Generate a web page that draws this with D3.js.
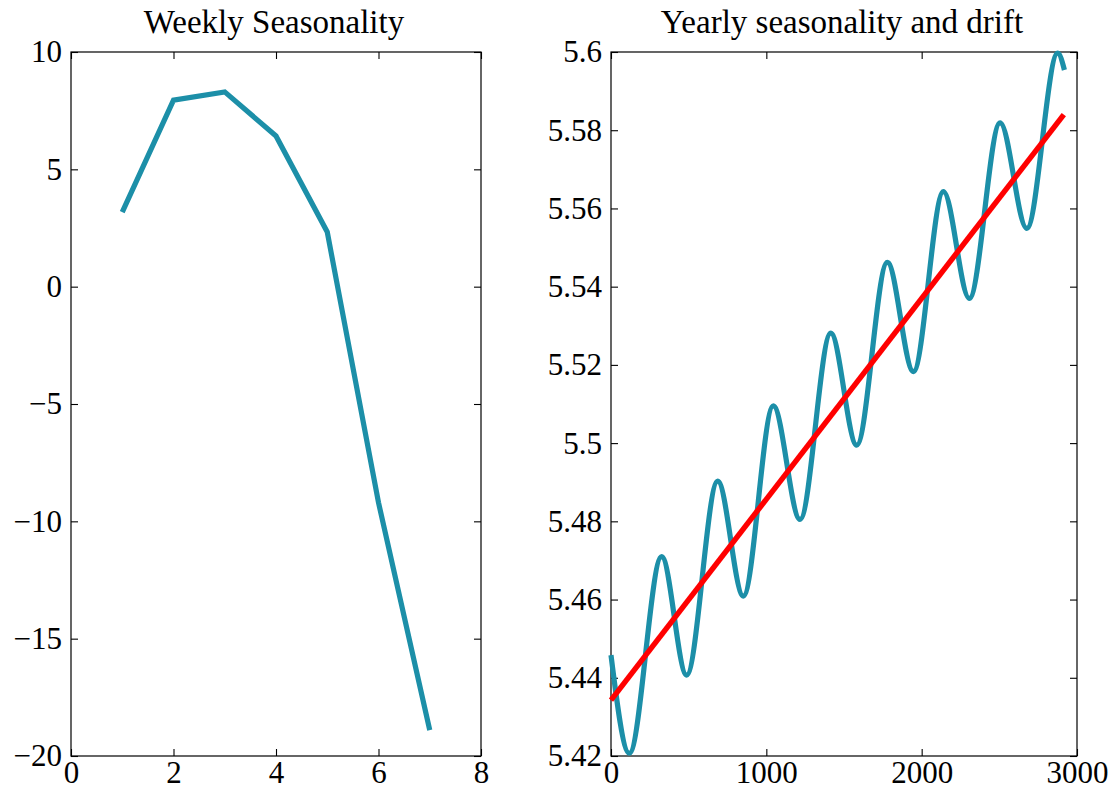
<!DOCTYPE html>
<html>
<head>
<meta charset="utf-8">
<script src="https://cdn.jsdelivr.net/npm/d3@7"></script>
<style>
  html, body { margin: 0; padding: 0; background: #fff; }
  svg { display: block; }
  text { font-family: "Liberation Serif", "Times New Roman", serif; fill: #000; }
</style>
</head>
<body>
<svg id="chart" width="1114" height="789"></svg>
<script>
// ---------- data ----------
const weeklyDays = [1, 2, 3, 4, 5, 6, 7];
const weeklyValues = [3.18, 7.95, 8.3, 6.42, 2.33, -9.2, -18.9];

const yearlyDays = [0, 118, 326, 487, 687, 852, 1045, 1217, 1415, 1582, 1779, 1947, 2140, 2307, 2505, 2677, 2876, 2919];
const yearlyValues = [5.4458, 5.4207, 5.4710, 5.4407, 5.4903, 5.4609, 5.5095, 5.4805, 5.5281, 5.4995, 5.5462, 5.5183, 5.5643, 5.5370, 5.5819, 5.5549, 5.5997, 5.5954];

const driftDays = [0, 2915];
const driftValues = [5.4343, 5.5840];

const weeklyXTicks = [0, 2, 4, 6, 8];
const weeklyXLabels = ["0", "2", "4", "6", "8"];
const weeklyYTicks = [-20, -15, -10, -5, 0, 5, 10];
const weeklyYLabels = ["\u221220", "\u221215", "\u221210", "\u22125", "0", "5", "10"];

const yearlyXTicks = [0, 1000, 2000, 3000];
const yearlyXLabels = ["0", "1000", "2000", "3000"];
const yearlyYTicks = [5.42, 5.44, 5.46, 5.48, 5.5, 5.52, 5.54, 5.56, 5.58, 5.6];
const yearlyYLabels = ["5.42", "5.44", "5.46", "5.48", "5.5", "5.52", "5.54", "5.56", "5.58", "5.6"];

const titles = ["Weekly Seasonality", "Yearly seasonality and drift"];

// ---------- layout ----------
const svg = d3.select("#chart");
const plotTop = 52, plotBottom = 756;
const fontSize = 31;
const titleSize = 33;
const teal = "#1c8fa8";
const tickLen = 7;

function panel(left, right, xDomain, yDomain, xTicks, xLabels, yTicks, yLabels, title) {
  const x = d3.scaleLinear().domain(xDomain).range([left, right]);
  const y = d3.scaleLinear().domain(yDomain).range([plotBottom, plotTop]);
  const g = svg.append("g");

  const fmt = (ticks, labels) => d => labels[ticks.indexOf(d)];

  const ax = (axis, tx, ty, labels) => {
    const a = g.append("g").attr("transform", `translate(${tx},${ty})`).call(axis);
    a.select(".domain").remove();
    a.selectAll(".tick line").attr("stroke", "#000").attr("stroke-width", 1.1);
    a.selectAll("text").style("font-family", '"Liberation Serif", serif').style("font-size", fontSize + "px").attr("fill", "#000");
    if (!labels) a.selectAll("text").remove();
    return a;
  };

  ax(d3.axisBottom(x).tickValues(xTicks).tickFormat(fmt(xTicks, xLabels)).tickSizeInner(-tickLen).tickSizeOuter(0).tickPadding(5), 0, plotBottom, true);
  ax(d3.axisTop(x).tickValues(xTicks).tickFormat("").tickSizeInner(-tickLen).tickSizeOuter(0), 0, plotTop, false);
  ax(d3.axisLeft(y).tickValues(yTicks).tickFormat(fmt(yTicks, yLabels)).tickSizeInner(-tickLen).tickSizeOuter(0).tickPadding(9), left, 0, true);
  ax(d3.axisRight(y).tickValues(yTicks).tickFormat("").tickSizeInner(-tickLen).tickSizeOuter(0), right, 0, false);

  g.append("rect")
    .attr("x", left).attr("y", plotTop)
    .attr("width", right - left).attr("height", plotBottom - plotTop)
    .attr("fill", "none").attr("stroke", "#000").attr("stroke-width", 1.2);

  g.append("text")
    .attr("x", (left + right) / 2 - 2).attr("y", 33)
    .attr("text-anchor", "middle")
    .style("font-size", titleSize + "px")
    .text(title);

  return { x, y, g };
}

// Left panel
const p1 = panel(71, 481, [0, 8], [-20, 10], weeklyXTicks, weeklyXLabels, weeklyYTicks, weeklyYLabels, titles[0]);
p1.g.append("path")
  .datum(weeklyDays.map((d, i) => [d, weeklyValues[i]]))
  .attr("fill", "none").attr("stroke", teal).attr("stroke-width", 5.2)
  .attr("stroke-linejoin", "miter")
  .attr("d", d3.line().x(d => p1.x(d[0])).y(d => p1.y(d[1])));

// Right panel
const p2 = panel(611, 1077, [0, 3000], [5.42, 5.6], yearlyXTicks, yearlyXLabels, yearlyYTicks, yearlyYLabels, titles[1]);
p2.g.append("path")
  .datum(yearlyDays.map((d, i) => [d, yearlyValues[i]]))
  .attr("fill", "none").attr("stroke", teal).attr("stroke-width", 5.2)
  .attr("d", d3.line().curve(d3.curveMonotoneX).x(d => p2.x(d[0])).y(d => p2.y(d[1])));
p2.g.append("path")
  .datum(driftDays.map((d, i) => [d, driftValues[i]]))
  .attr("fill", "none").attr("stroke", "#ff0000").attr("stroke-width", 5.4)
  .attr("d", d3.line().x(d => p2.x(d[0])).y(d => p2.y(d[1])));
</script>
</body>
</html>
